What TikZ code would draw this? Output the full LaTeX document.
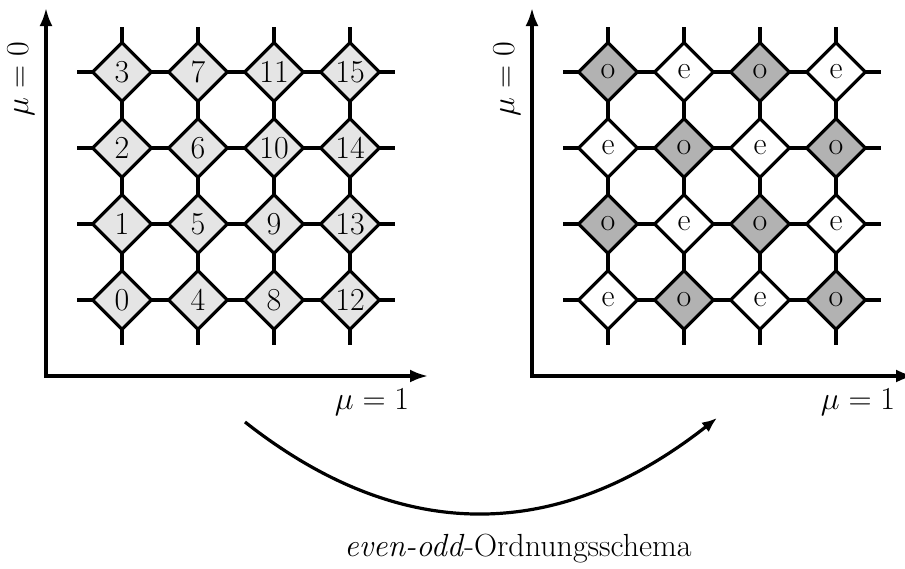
\RequirePackage{fix-cm}
\documentclass[tikz,border=0pt]{standalone}
\usetikzlibrary{shapes.geometric,arrows.meta}
\begin{document}
\begin{tikzpicture}[x=1pt,y=-1pt,line width=3.2pt,
  bigfont/.style={font=\fontsize{32}{38}\selectfont},
  cell/.style={draw,diamond,aspect=1,inner sep=0pt,minimum width=60pt,minimum height=60pt,bigfont},
  numcell/.style={cell,fill=black!10},
  evencell/.style={cell,fill=white},
  oddcell/.style={cell,fill=black!30},
  axis/.style={{Latex[length=18pt,width=13pt]}-{Latex[length=18pt,width=13pt]},line join=miter},
  lbl/.style={bigfont,inner sep=0pt}]
\useasboundingbox (0,0) rectangle (905,568);
% ---------- grid lines ----------
\foreach \ox/\P in {0/L,486/R}{
  \foreach \i in {0,...,3}{
    \coordinate (\P vt\i) at (122+\ox+76*\i,27);
    \coordinate (\P vb\i) at (122+\ox+76*\i,345);
    \draw (\P vt\i) -- (\P vb\i);
    \coordinate (\P hl\i) at (77+\ox,300-76*\i);
    \coordinate (\P hr\i) at (395+\ox,300-76*\i);
    \draw (\P hl\i) -- (\P hr\i);
  }
}
% ---------- left cells ----------
\foreach \c in {0,...,3}{
  \foreach \r in {0,...,3}{
    \pgfmathtruncatemacro\n{4*\c+\r}
    \node[numcell] (L-\c-\r) at (122+76*\c,300-76*\r) {\n};
  }
}
% ---------- right cells ----------
\foreach \c in {0,...,3}{
  \foreach \r in {0,...,3}{
    \pgfmathtruncatemacro\p{mod(\c+\r,2)}
    \ifnum\p=0
      \node[evencell] (R-\c-\r) at (608+76*\c,300-76*\r) {e};
    \else
      \node[oddcell] (R-\c-\r) at (608+76*\c,300-76*\r) {o};
    \fi
  }
}
% ---------- axes ----------
\coordinate (Lo) at (46,376);
\coordinate (Ly) at (46,8);
\coordinate (Lx) at (428,376);
\draw[axis] (Ly) -- (Lo) -- (Lx);
\coordinate (Ro) at (532,376);
\coordinate (Ry) at (532,8);
\coordinate (Rx) at (914,376);
\draw[axis] (Ry) -- (Ro) -- (Rx);
\node[lbl,rotate=90] (Lmu0) at (21,79) {$\mu=0$};
\node[lbl,rotate=90] (Rmu0) at (507,79) {$\mu=0$};
\node[lbl,anchor=base] (Lmu1) at (372,409) {$\mu=1$};
\node[lbl,anchor=base] (Rmu1) at (858,409) {$\mu=1$};
% ---------- transformation arrow ----------
\coordinate (as) at (245,422);
\coordinate (ae) at (717,418);
\draw[-{Latex[length=15pt,width=12pt]}] (as) .. controls (401,545) and (558,543) .. (ae);
\node[lbl,anchor=base] (cap) at (518,556) {\textit{even-odd}-Ordnungsschema};
\end{tikzpicture}
\end{document}
